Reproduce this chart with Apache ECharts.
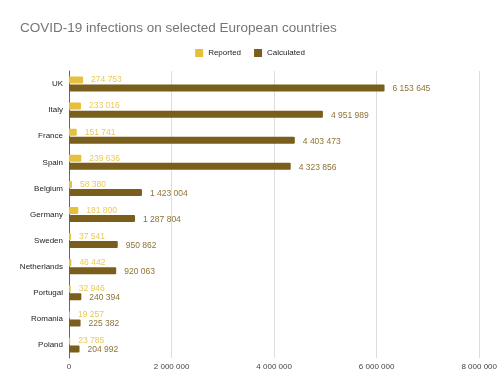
<!DOCTYPE html>
<html><head><meta charset="utf-8">
<script src="https://cdn.jsdelivr.net/npm/echarts@6/dist/echarts.min.js"></script>
<style>html,body{margin:0;padding:0;background:#fff}#c{width:500px;height:392px}</style>
</head><body><div id="c"></div>
<script>
const countries = ["UK","Italy","France","Spain","Belgium","Germany","Sweden","Netherlands","Portugal","Romania","Poland"];
const reported = [274753,233016,151741,239636,58380,181800,37541,46442,32946,19257,23785];
const calculated = [6153645,4951989,4403473,4323856,1423004,1287804,950862,920063,240394,225382,204992];
const xTicks = [0,2000000,4000000,6000000,8000000];

function fmt(v){return String(Math.round(v)).replace(/\B(?=(\d{3})+(?!\d))/g,' ');}
const FF = 'Liberation Sans, Arial, Helvetica, sans-serif';
const chart = echarts.init(document.getElementById('c'));
chart.setOption({
  animation:false,
  textStyle:{fontFamily:FF},
  title:{text:'COVID-19 infections on selected European countries',left:15,top:16,
    textStyle:{fontSize:13.5,fontWeight:'normal',color:'#757575',fontFamily:FF}},
  legend:{top:44,left:'center',itemWidth:8,itemHeight:8,itemGap:13,icon:'rect',
    textStyle:{fontSize:8,color:'#222',fontFamily:FF}},
  grid:{left:69,right:19,top:71,bottom:34,containLabel:false},
  xAxis:{type:'value',min:xTicks[0],max:xTicks[xTicks.length-1],interval:2000000,
    axisLine:{show:false},axisTick:{show:false},
    splitLine:{lineStyle:{color:'#dddddd',width:1}},
    axisLabel:{fontSize:8,color:'#444',margin:5,formatter:fmt}},
  yAxis:{type:'category',data:countries,inverse:true,
    axisLine:{show:true,lineStyle:{color:'#666',width:1}},axisTick:{show:false},
    axisLabel:{fontSize:8,color:'#222',margin:6}},
  series:[
    {name:'Reported',type:'bar',data:reported,barWidth:7,barGap:'15%',
     itemStyle:{color:'#e6c03d',borderRadius:[0,1,1,0]},
     label:{show:true,position:'right',distance:8,color:'#ebc956',fontSize:8.5,formatter:p=>fmt(p.value)}},
    {name:'Calculated',type:'bar',data:calculated,barWidth:7,
     itemStyle:{color:'#7a5e1b',borderRadius:[0,1,1,0]},
     label:{show:true,position:'right',distance:8,color:'#8d7436',fontSize:8.5,offset:[0,1],formatter:p=>fmt(p.value)}}
  ]
});
</script></body></html>
